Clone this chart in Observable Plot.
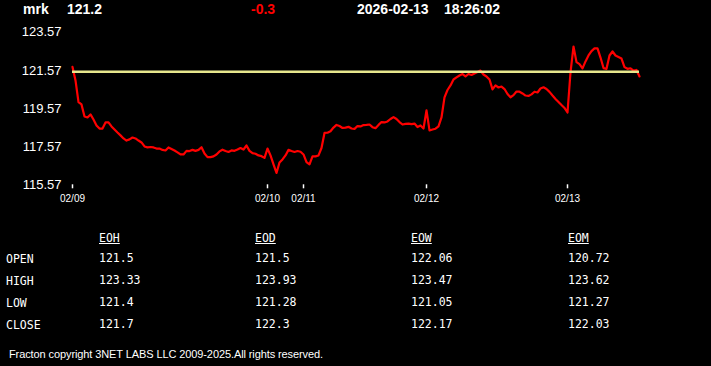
<!DOCTYPE html>
<html>
<head>
<meta charset="utf-8">
<script src="https://cdn.jsdelivr.net/npm/d3@7"></script>
<script src="https://cdn.jsdelivr.net/npm/@observablehq/plot@0.6"></script>
<style>
  html, body { margin: 0; padding: 0; background: #000; width: 711px; height: 366px; overflow: hidden; }
  body { position: relative; color: #fff; font-family: "Liberation Sans", Arial, sans-serif; }
  #chart { position: absolute; left: 0; top: 0; }
  .hdr { position: absolute; top: 1px; font: bold 14px "Liberation Sans", Arial, sans-serif; white-space: nowrap; line-height: 17px; }
  .tbl { position: absolute; font: 11.5px "DejaVu Sans Mono", monospace; white-space: nowrap; line-height: 13px; }
  .tbl.h { text-decoration: underline; }
  #foot { position: absolute; left: 9px; top: 348px; font: 11px "Liberation Sans", Arial, sans-serif; letter-spacing: -0.1px; white-space: nowrap; }
</style>
</head>
<body>
<div id="chart"></div>
<div id="head"></div>
<div id="table"></div>
<div id="foot"></div>
<script>
// ---- data ----
const symbol = "mrk";
const lastPrice = "121.2";
const change = "-0.3";
const dateStr = "2026-02-13";
const timeStr = "18:26:02";
const prevClose = 121.5;

const prices = [
  121.75, 121.04, 119.90, 119.78, 119.15, 119.10, 119.26, 118.99, 118.68, 118.52,
  118.52, 118.84, 118.84, 118.63, 118.47, 118.31, 118.16, 118.00, 117.89, 117.95,
  118.05, 118.00, 117.89, 117.79, 117.58, 117.53, 117.55, 117.53, 117.47, 117.47,
  117.40, 117.37, 117.53, 117.45, 117.37, 117.27, 117.16, 117.16, 117.35, 117.34,
  117.40, 117.35, 117.40, 117.54, 117.21, 117.02, 117.02, 117.06, 117.16, 117.32,
  117.41, 117.34, 117.29, 117.37, 117.35, 117.42, 117.50, 117.42, 117.63, 117.35,
  117.23, 117.20, 117.11, 117.07, 116.98, 117.47, 117.11, 116.64, 116.19, 116.74,
  116.90, 117.11, 117.40, 117.34, 117.29, 117.34, 117.30, 117.16, 116.76, 116.64,
  117.06, 117.06, 117.11, 117.50, 118.29, 118.30, 118.38, 118.57, 118.71, 118.65,
  118.55, 118.57, 118.61, 118.52, 118.50, 118.65, 118.63, 118.70, 118.71, 118.73,
  118.59, 118.54, 118.71, 118.86, 118.84, 118.89, 119.02, 119.12, 119.02, 118.86,
  118.73, 118.76, 118.78, 118.75, 118.78, 118.60, 118.68, 118.52, 119.47, 118.42,
  118.47, 118.51, 118.63, 119.10, 120.15, 120.54, 120.78, 121.09, 121.20, 121.30,
  121.38, 121.25, 121.38, 121.33, 121.41, 121.48, 121.56, 121.35, 121.25, 121.09,
  120.57, 120.78, 120.67, 120.72, 120.59, 120.33, 120.16, 120.27, 120.46, 120.45,
  120.36, 120.25, 120.23, 120.31, 120.45, 120.41, 120.62, 120.68, 120.59, 120.44,
  120.25, 120.07, 119.91, 119.75, 119.60, 119.36, 121.47, 122.82, 122.00, 121.90,
  121.67, 122.04, 122.35, 122.58, 122.72, 122.72, 122.24, 121.69, 121.65, 122.35,
  122.56, 122.35, 122.27, 122.19, 121.74, 121.65, 121.68, 121.56, 121.59, 121.25
];

const dayTickIndex = [0, 65, 77, 118, 165];
const dayTickLabels = ["02/09", "02/10", "02/11", "02/12", "02/13"];
const yTicks = [115.57, 117.57, 119.57, 121.57, 123.57];

const tableCols = ["EOH", "EOD", "EOW", "EOM"];
const tableRows = ["OPEN", "HIGH", "LOW", "CLOSE"];
const openVals  = ["121.5", "121.5", "122.06", "120.72"];
const highVals  = ["123.33", "123.93", "123.47", "123.62"];
const lowVals   = ["121.4", "121.28", "121.05", "121.27"];
const closeVals = ["121.7", "122.3", "122.17", "122.03"];
const footerText = "Fracton copyright 3NET LABS LLC 2009-2025.All rights reserved.";

// ---- chart ----
const series = prices.map((v, i) => ({i, v}));
const H = 215;
const chart = Plot.plot({
  width: 711,
  height: H,
  marginTop: 31.7,
  marginBottom: H - 184.3,
  marginLeft: 72,
  marginRight: 72,
  style: {background: "#000", color: "#fff", fontFamily: "'Liberation Sans', Arial, sans-serif", overflow: "visible"},
  x: {domain: [0, prices.length - 1]},
  y: {domain: [115.57, 123.57]},
  marks: [
    Plot.axisY({ticks: yTicks, tickFormat: d => d.toFixed(2), tickSize: 0, tickPadding: 11, fontSize: 13, fill: "#fff", label: null}),
    Plot.axisX({ticks: dayTickIndex, tickFormat: d => dayTickLabels[dayTickIndex.indexOf(d)], tickSize: 4, tickPadding: 6, fontSize: 10, fill: "#fff", stroke: "#fff", strokeWidth: 1.5, label: null}),
    Plot.line(series, {x: "i", y: "v", stroke: "#ff0000", strokeWidth: 2.2, curve: "linear"}),
    Plot.ruleY([prevClose], {stroke: "#e6e68c", strokeWidth: 2.5})
  ]
});
document.getElementById("chart").appendChild(chart);

// ---- header ----
const head = document.getElementById("head");
const hdrItems = [
  [symbol, 23, "#fff"], [lastPrice, 67, "#fff"], [change, 251, "#ff0000"],
  [dateStr, 357, "#fff"], [timeStr, 444, "#fff"]
];
for (const [t, x, c] of hdrItems) {
  const d = document.createElement("div");
  d.className = "hdr"; d.textContent = t; d.style.left = x + "px"; d.style.color = c;
  head.appendChild(d);
}

// ---- table ----
const table = document.getElementById("table");
const colX = [99, 255, 411, 568];
const rowY = [253, 275, 297, 319];
const vals = [openVals, highVals, lowVals, closeVals];
function cell(t, x, y, cls) {
  const d = document.createElement("div");
  d.className = "tbl" + (cls ? " " + cls : ""); d.textContent = t;
  d.style.left = x + "px"; d.style.top = y + "px";
  table.appendChild(d);
}
tableCols.forEach((c, j) => cell(c, colX[j], 232, "h"));
tableRows.forEach((r, k) => {
  cell(r, 6, rowY[k]);
  vals[k].forEach((v, j) => cell(v, colX[j], rowY[k] - 1.5));
});
document.getElementById("foot").textContent = footerText;
</script>
</body>
</html>
